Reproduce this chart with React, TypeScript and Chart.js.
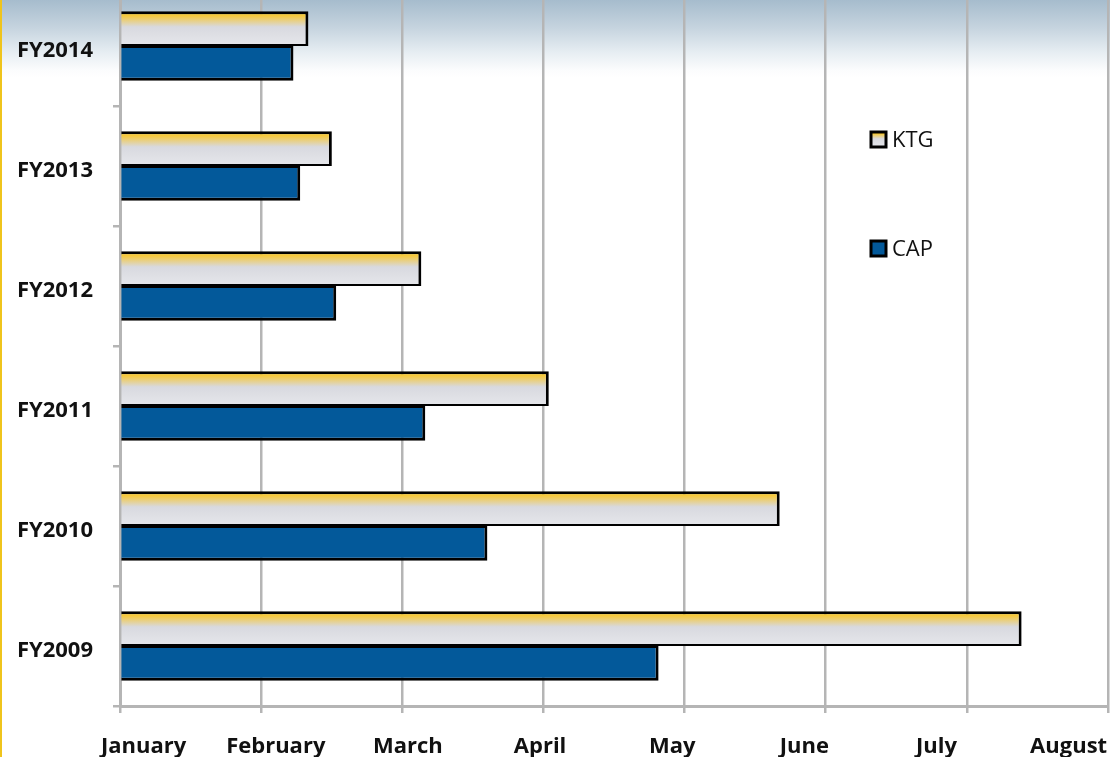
import React, { useEffect, useRef } from "react";
import { Chart, registerables } from "chart.js";

Chart.register(...registerables);

// Categories (top to bottom) and values measured in months after the start of January
const categories = ["FY2014", "FY2013", "FY2012", "FY2011", "FY2010", "FY2009"];
const seriesNames = ["KTG", "CAP"];
const ktgValues = [1.335, 1.501, 2.135, 3.038, 4.674, 6.388];
const capValues = [1.229, 1.277, 1.532, 2.163, 2.603, 3.816];
const monthLabels = ["January", "February", "March", "April", "May", "June", "July", "August"];

const FONT = "'Open Sans', 'DejaVu Sans', sans-serif";
const GRID = "#b5b5b5";
const CAP_COLOR = "#03599a";
const CAT_PCT = 0.58;

function ktgGradient(ctx: CanvasRenderingContext2D, top: number, bottom: number) {
  const g = ctx.createLinearGradient(0, top, 0, bottom);
  g.addColorStop(0, "#fcc500");
  g.addColorStop(0.12, "#f6c838");
  g.addColorStop(0.45, "#d8d9df");
  g.addColorStop(1, "#e6e7eb");
  return g;
}

const legendPlugin = {
  id: "sideLegend",
  afterDraw(chart: any) {
    const ctx = chart.ctx as CanvasRenderingContext2D;
    const x = 871;
    const items = [
      { label: seriesNames[0], top: 146, ktg: true },
      { label: seriesNames[1], top: 255, ktg: false },
    ];
    ctx.save();
    items.forEach((it) => {
      const s = 15;
      ctx.fillStyle = it.ktg ? ktgGradient(ctx, it.top, it.top + s) : CAP_COLOR;
      ctx.fillRect(x, it.top, s, s);
      ctx.lineWidth = 3;
      ctx.strokeStyle = "#000";
      ctx.strokeRect(x, it.top, s, s);
      ctx.fillStyle = "#111";
      ctx.font = `22px ${FONT}`;
      ctx.textBaseline = "middle";
      ctx.textAlign = "left";
      ctx.fillText(it.label, x + 21, it.top + s / 2 + 1);
    });
    ctx.restore();
  },
};

export default function App() {
  const ref = useRef<HTMLCanvasElement>(null);

  useEffect(() => {
    const chart = new Chart(ref.current!, {
      type: "bar",
      data: {
        labels: categories,
        datasets: [
          {
            label: seriesNames[0],
            data: ktgValues,
            xAxisID: "x",
            yAxisID: "y",
            backgroundColor: (c: any) => {
              const ch = c.chart;
              const y = ch.scales && ch.scales.y;
              if (!y || c.type !== "data") return "#dcdde2";
              const center = y.getPixelForValue(c.dataIndex);
              const band = (y.bottom - y.top) / categories.length;
              const h = (band * CAT_PCT) / 2;
              if (!Number.isFinite(center) || !Number.isFinite(h) || h <= 0) return "#dcdde2";
              return ktgGradient(ch.ctx, center - h, center);
            },
            borderColor: "#000",
            borderWidth: { top: 3, right: 3, bottom: 2, left: 0 },
            categoryPercentage: CAT_PCT,
            barPercentage: 1,
          },
          {
            label: seriesNames[1],
            data: capValues,
            xAxisID: "x",
            yAxisID: "y",
            backgroundColor: CAP_COLOR,
            borderColor: "#000",
            borderWidth: { top: 2, right: 3, bottom: 3, left: 0 },
            categoryPercentage: CAT_PCT,
            barPercentage: 1,
          },
        ],
      },
      options: {
        indexAxis: "y",
        animation: false,
        responsive: true,
        maintainAspectRatio: false,
        layout: { padding: { left: 2, right: 2, top: 0, bottom: 13 } },
        plugins: { legend: { display: false }, tooltip: { enabled: false } },
        scales: {
          x: {
            type: "linear",
            position: "bottom",
            min: 0,
            max: 7,
            weight: 0,
            ticks: { display: false, stepSize: 1 },
            grid: { color: GRID, lineWidth: 2.5, tickLength: 7, drawTicks: true },
            border: { color: GRID, width: 3 },
            afterFit: (s: any) => {
              s.height = 7;
              s.paddingLeft = 0;
              s.paddingRight = 0;
            },
          },
          x2: {
            type: "linear",
            axis: "x",
            position: "bottom",
            min: -0.179,
            max: 7.298,
            weight: 1,
            grid: { display: false, drawTicks: false },
            border: { display: false },
            afterBuildTicks: (s: any) => {
              s.ticks = monthLabels.map((_, i) => ({ value: i }));
            },
            ticks: {
              autoSkip: false,
              maxRotation: 0,
              padding: 21,
              color: "#111",
              font: { family: FONT, weight: "bold", size: 22 },
              callback: (v: any) => monthLabels[Math.round(Number(v))],
            },
            afterFit: (s: any) => {
              s.height = 60;
              s.paddingLeft = 0;
              s.paddingRight = 0;
            },
          },
          y: {
            type: "category",
            position: "left",
            ticks: {
              padding: 20,
              labelOffset: 5,
              color: "#111",
              font: { family: FONT, weight: "bold", size: 22 },
            },
            grid: { drawOnChartArea: false, tickLength: 7, color: GRID, lineWidth: 2.5, offset: true },
            border: { color: GRID, width: 3 },
            afterFit: (s: any) => {
              s.width = 118;
              s.paddingTop = 0;
              s.paddingBottom = 0;
            },
          },
        },
      } as any,
      plugins: [legendPlugin],
    });
    return () => chart.destroy();
  }, []);

  return (
    <div
      style={{
        position: "fixed",
        left: 0,
        top: 0,
        width: 1110,
        height: 757,
        overflow: "hidden",
        background:
          "linear-gradient(to bottom, #a6bccd 0px, #c6d4df 28px, #e6edf2 52px, #fbfcfd 70px, #ffffff 78px)",
      }}
    >
      <div style={{ position: "absolute", left: 0, top: -14, width: 1110, height: 800 }}>
        <canvas ref={ref} />
      </div>
      <div style={{ position: "absolute", left: 0, top: 0, width: 2, height: 757, background: "#efc41c" }} />
    </div>
  );
}
